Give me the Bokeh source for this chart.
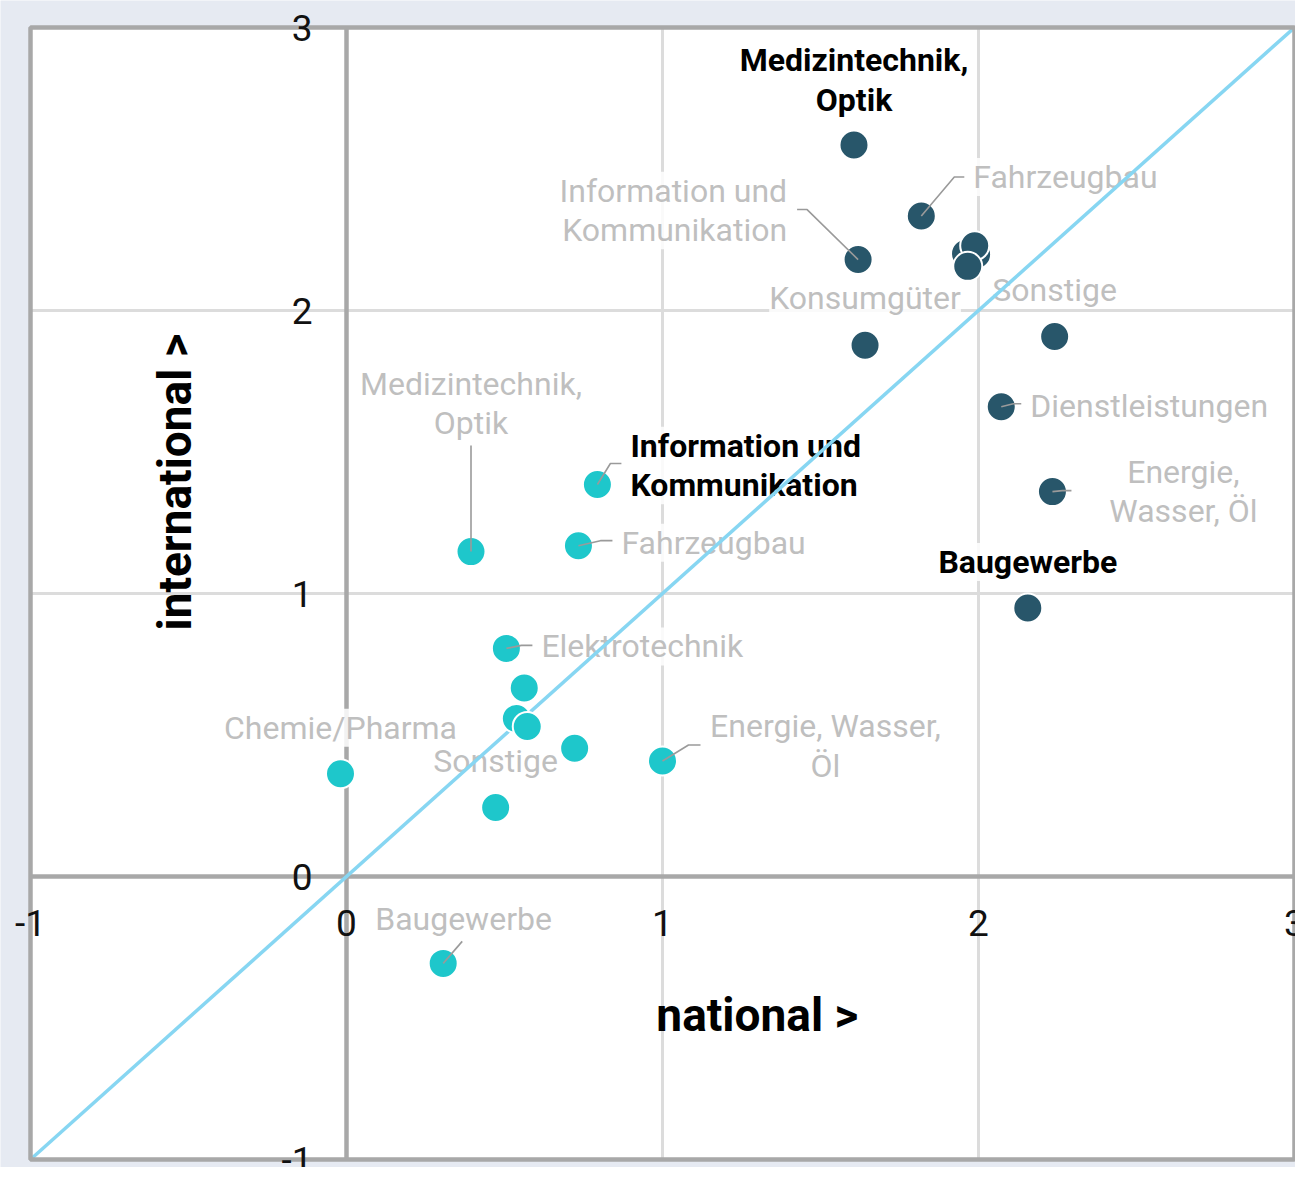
import math
from bokeh.plotting import figure
from bokeh.models import Label, Range1d
from bokeh.embed import file_html
from bokeh.resources import INLINE

# ---------------- data ----------------
dark_names = ["Medizintechnik,\nOptik", "Fahrzeugbau", "Information und\nKommunikation",
              "Konsumgüter", "Sonstige", "Dienstleistungen", "Energie,\nWasser, Öl",
              "Baugewerbe", "", "", "", ""]
dark_national = [1.606, 1.819, 1.619, 1.641, 2.241, 2.072, 2.234, 2.156, 1.959, 1.994, 1.988, 1.966]
dark_international = [2.585, 2.334, 2.180, 1.877, 1.908, 1.660, 1.360, 0.949, 2.201, 2.198, 2.229, 2.156]

teal_names = ["Information und\nKommunikation", "Medizintechnik,\nOptik", "Fahrzeugbau",
              "Elektrotechnik", "", "", "", "", "Energie, Wasser,\nÖl", "Chemie/Pharma",
              "Sonstige", "Baugewerbe"]
teal_national = [0.794, 0.394, 0.734, 0.506, 0.5625, 0.5375, 0.572, 0.722, 1.0, -0.019, 0.472, 0.306]
teal_international = [1.385, 1.148, 1.169, 0.806, 0.666, 0.558, 0.530, 0.453, 0.408, 0.363, 0.244, -0.307]

x_ticks = [-1, 0, 1, 2, 3]
x_tick_labels = ["-1", "0", "1", "2", "3"]
y_ticks = [-1, 0, 1, 2, 3]
y_tick_labels = ["-1", "0", "1", "2", "3"]
diag = [-1, 3]

x_title = "national >"
y_title = "international >"

# ---------------- label styling (pixel offsets from the point) ----------------
# (dx, dy, align, bold, leader polyline offsets)
dark_style = [
    (0, -65, "center", True, None),
    (52, -39, "left", False, [(0, 0), (33, -39), (43, -39)]),
    (-71, -49, "right", False, [(0, 0), (-51, -50), (-61, -50)]),
    (0, -47, "center", False, None),
    (0, -47, "center", False, None),
    (29, -1, "left", False, [(0, 0), (12, -3), (20, -3)]),
    (131, 0, "center", False, [(0, 0), (10, -1), (19, -1)]),
    (0, -46, "center", True, None),
    None, None, None, None,
]
teal_style = [
    (33, -19, "left", True, [(0, 0), (13, -21), (24, -21)]),
    (0, -148, "center", False, [(0, 0), (0, -106)]),
    (43, -3, "left", False, [(0, 0), (22, -5), (34, -5)]),
    (35, -2, "left", False, [(0, 0), (15, -3), (26, -3)]),
    None, None, None, None,
    (163, -15, "center", False, [(0, 0), (26, -16), (38, -16)]),
    (0, -46, "center", False, None),
    (0, -46, "center", False, None),
    (-68, -44, "left", False, [(0, 0), (19, -22)]),
]

# ---------------- layout ----------------
W, H = 1295, 1167
BL, BR, BT, BB = 30, 1, 27, 8          # margins around the drawn plot box
XMIN, XMAX, YMIN, YMAX = x_ticks[0], x_ticks[-1], y_ticks[0], y_ticks[-1]
SX = (W - BL - BR) / (XMAX - XMIN)
SY = (H - BT - BB) / (YMAX - YMIN)

FONT = "Roboto"
DARK = "#28566a"
TEAL = "#1ec7cb"
GRAY_TXT = "#bfbfbf"
BOX_LINE = "#a8a8a8"

p = figure(width=W, height=H,
           x_range=Range1d(XMIN - BL / SX, XMAX + BR / SX),
           y_range=Range1d(YMIN - BB / SY, YMAX + BT / SY),
           min_border_left=0, min_border_right=0, min_border_top=0, min_border_bottom=0,
           toolbar_location=None, output_backend="svg",
           background_fill_color="#e6eaf2", border_fill_color="#e6eaf2",
           outline_line_color=None)
p.axis.visible = False
p.grid.visible = False

# white plot box
p.quad(left=[XMIN], right=[XMAX], bottom=[YMIN], top=[YMAX], fill_color="white",
       line_color=None, level="image")

# grid lines limited to the box
p.segment(x0=x_ticks, x1=x_ticks, y0=[YMIN] * len(x_ticks), y1=[YMAX] * len(x_ticks),
          line_color="#dcdcdc", line_width=3, level="image")
p.segment(x0=[XMIN] * len(y_ticks), x1=[XMAX] * len(y_ticks), y0=y_ticks, y1=y_ticks,
          line_color="#dcdcdc", line_width=3, level="image")
# zero lines
p.segment(x0=[0, XMIN], x1=[0, XMAX], y0=[YMIN, 0], y1=[YMAX, 0],
          line_color=BOX_LINE, line_width=4.5, level="image")

# tick labels next to the zero lines
for t, lbl in zip(x_ticks, x_tick_labels):
    p.add_layout(Label(x=t, y=0, text=lbl, y_offset=-33, text_align="center",
                       text_baseline="top", text_font=FONT, text_font_size="37px",
                       text_color="#111111"))
for t, lbl in zip(y_ticks, y_tick_labels):
    p.add_layout(Label(x=0, y=t, text=lbl, x_offset=-34, text_align="right",
                       text_baseline="middle", text_font=FONT, text_font_size="37px",
                       text_color="#111111"))

# point labels (under the glyphs)
def add_labels(names, xs, ys, styles):
    lx, ly = [], []
    for name, x, y, st in zip(names, xs, ys, styles):
        if st is None or not name:
            continue
        dx, dy, align, bold, leader = st
        p.add_layout(Label(x=x, y=y, x_offset=dx, y_offset=-dy, text=name,
                           text_align=align, text_baseline="middle",
                           text_font=FONT, text_font_size="32px",
                           text_font_style="bold" if bold else "normal",
                           text_color="#000000" if bold else GRAY_TXT,
                           text_line_height=1.04,
                           background_fill_color="white", background_fill_alpha=0.85,
                           level="underlay"))
        if leader:
            lx.append([x + ox / SX for ox, oy in leader])
            ly.append([y - oy / SY for ox, oy in leader])
    return lx, ly

dlx, dly = add_labels(dark_names, dark_national, dark_international, dark_style)
tlx, tly = add_labels(teal_names, teal_national, teal_international, teal_style)

# diagonal
p.line(diag, diag, line_color="#87d6f2", line_width=3.5)

# points
p.scatter(teal_national, teal_international, size=29, fill_color=TEAL,
          line_color="white", line_width=2)
p.scatter(dark_national, dark_international, size=29, fill_color=DARK,
          line_color="white", line_width=2)

# leader lines
p.multi_line(dlx + tlx, dly + tly, line_color="#9a9a9a", line_width=1.6)

# box outline
p.quad(left=[XMIN], right=[XMAX], bottom=[YMIN], top=[YMAX], fill_color=None,
       line_color=BOX_LINE, line_width=4.5)

# axis titles
p.add_layout(Label(x=1.30, y=-0.488, text=x_title, text_align="center",
                   text_baseline="alphabetic", text_font=FONT, text_font_size="46px",
                   text_font_style="bold", text_color="#000000"))
p.add_layout(Label(x=-0.544, y=1.394, text=y_title, angle=math.pi / 2,
                   text_align="center", text_baseline="alphabetic", text_font=FONT,
                   text_font_size="46px", text_font_style="bold", text_color="#000000"))

open("out.html", "w").write(file_html(p, INLINE))
